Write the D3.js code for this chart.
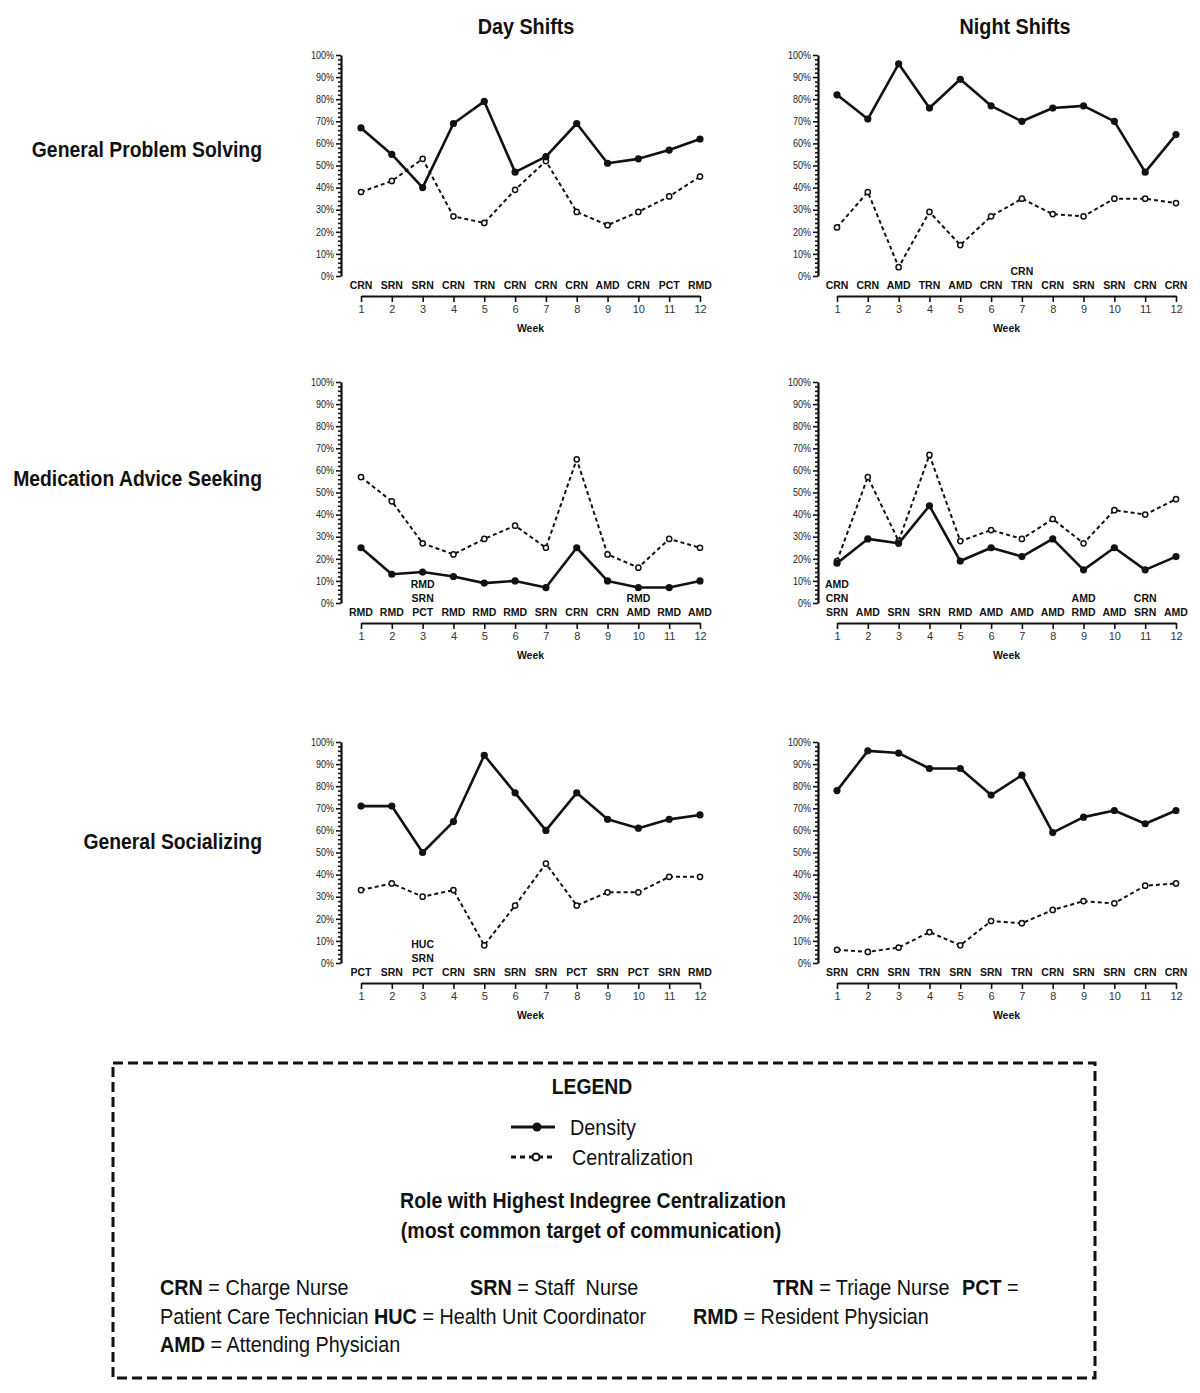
<!DOCTYPE html>
<html>
<head>
<meta charset="utf-8">
<script src="https://cdn.jsdelivr.net/npm/d3@7"></script>
<style>
html,body{margin:0;padding:0;background:#fff;}
svg{display:block;}
</style>
</head>
<body>
<svg id="chart" width="1200" height="1393"></svg>
<script>
// ---------------- DATA ----------------
const weeks = [1,2,3,4,5,6,7,8,9,10,11,12];
const yTickValues = [0,10,20,30,40,50,60,70,80,90,100];
const columnTitles = ["Day Shifts", "Night Shifts"];
const rowTitles = ["General Problem Solving", "Medication Advice Seeking", "General Socializing"];

// General Problem Solving
const gpsDayDensity   = [67,55,40,69,79,47,54,69,51,53,57,62];
const gpsDayCentral   = [38,43,53,27,24,39,52,29,23,29,36,45];
const gpsDayRoles     = [["CRN"],["SRN"],["SRN"],["CRN"],["TRN"],["CRN"],["CRN"],["CRN"],["AMD"],["CRN"],["PCT"],["RMD"]];
const gpsNightDensity = [82,71,96,76,89,77,70,76,77,70,47,64];
const gpsNightCentral = [22,38,4,29,14,27,35,28,27,35,35,33];
const gpsNightRoles   = [["CRN"],["CRN"],["AMD"],["TRN"],["AMD"],["CRN"],["CRN","TRN"],["CRN"],["SRN"],["SRN"],["CRN"],["CRN"]];

// Medication Advice Seeking
const masDayDensity   = [25,13,14,12,9,10,7,25,10,7,7,10];
const masDayCentral   = [57,46,27,22,29,35,25,65,22,16,29,25];
const masDayRoles     = [["RMD"],["RMD"],["RMD","SRN","PCT"],["RMD"],["RMD"],["RMD"],["SRN"],["CRN"],["CRN"],["RMD","AMD"],["RMD"],["AMD"]];
const masNightDensity = [18,29,27,44,19,25,21,29,15,25,15,21];
const masNightCentral = [19,57,28,67,28,33,29,38,27,42,40,47];
const masNightRoles   = [["AMD","CRN","SRN"],["AMD"],["SRN"],["SRN"],["RMD"],["AMD"],["AMD"],["AMD"],["AMD","RMD"],["AMD"],["CRN","SRN"],["AMD"]];

// General Socializing
const gsDayDensity    = [71,71,50,64,94,77,60,77,65,61,65,67];
const gsDayCentral    = [33,36,30,33,8,26,45,26,32,32,39,39];
const gsDayRoles      = [["PCT"],["SRN"],["HUC","SRN","PCT"],["CRN"],["SRN"],["SRN"],["SRN"],["PCT"],["SRN"],["PCT"],["SRN"],["RMD"]];
const gsNightDensity  = [78,96,95,88,88,76,85,59,66,69,63,69];
const gsNightCentral  = [6,5,7,14,8,19,18,24,28,27,35,36];
const gsNightRoles    = [["SRN"],["CRN"],["SRN"],["TRN"],["SRN"],["SRN"],["TRN"],["CRN"],["SRN"],["SRN"],["CRN"],["CRN"]];

const legendSeries = ["Density", "Centralization"];
const roleDefs = [
  {abbr:"CRN", name:"Charge Nurse"},
  {abbr:"SRN", name:"Staff  Nurse"},
  {abbr:"TRN", name:"Triage Nurse"},
  {abbr:"PCT", name:"Patient Care Technician"},
  {abbr:"HUC", name:"Health Unit Coordinator"},
  {abbr:"RMD", name:"Resident Physician"},
  {abbr:"AMD", name:"Attending Physician"}
];

// -------------- LAYOUT --------------
const FONT = "'Liberation Sans', Arial, sans-serif";
const cols = [
  {axisX: 341, x0: 361, x1: 700, titleX: 526},
  {axisX: 818, x0: 837, x1: 1176, titleX: 1015}
];
const rows = [
  {top: 55, bottom: 276, labelY: 157},
  {top: 382, bottom: 603, labelY: 486},
  {top: 742, bottom: 963, labelY: 849}
];
const panels = [
  {r:0,c:0,d:gpsDayDensity,ce:gpsDayCentral,roles:gpsDayRoles},
  {r:0,c:1,d:gpsNightDensity,ce:gpsNightCentral,roles:gpsNightRoles},
  {r:1,c:0,d:masDayDensity,ce:masDayCentral,roles:masDayRoles},
  {r:1,c:1,d:masNightDensity,ce:masNightCentral,roles:masNightRoles},
  {r:2,c:0,d:gsDayDensity,ce:gsDayCentral,roles:gsDayRoles},
  {r:2,c:1,d:gsNightDensity,ce:gsNightCentral,roles:gsNightRoles}
];

const svg = d3.select("#chart");
svg.append("rect").attr("width",1200).attr("height",1393).attr("fill","#fff");

// condensed text helper
function ctext(parent, x, y, str, opts){
  const o = Object.assign({size:22, bold:false, anchor:"start", sx:0.9}, opts||{});
  const g = parent.append("g").attr("transform",`translate(${x},${y}) scale(${o.sx},1)`);
  const t = g.append("text").attr("x",0).attr("y",0).attr("text-anchor",o.anchor)
    .attr("font-family",FONT).attr("font-size",o.size).attr("fill","#111")
    .attr("font-weight", o.bold ? "bold" : "normal").attr("xml:space","preserve");
  if (Array.isArray(str)) {
    str.forEach(pt=>t.append("tspan").attr("font-weight", pt.b ? "bold":"normal").text(pt.t));
  } else t.text(str);
  return t;
}

// Column titles
columnTitles.forEach((t,i)=> ctext(svg, cols[i].titleX, 34, t, {bold:true, anchor:"middle", sx:0.9}));
// Row titles
rowTitles.forEach((t,i)=> ctext(svg, 262, rows[i].labelY, t, {bold:true, anchor:"end", sx:0.88}));

panels.forEach(p=>{
  const col = cols[p.c], row = rows[p.r];
  const g = svg.append("g");
  const x = d3.scaleLinear().domain([1,12]).range([col.x0, col.x1]);
  const y = d3.scaleLinear().domain([0,100]).range([row.bottom, row.top]);

  // Y axis minor ticks (every 2%)
  const yMinor = d3.axisLeft(y).tickValues(d3.range(0,101,2).filter(v=>v%10!==0)).tickSize(3).tickFormat("");
  const gm = g.append("g").attr("transform",`translate(${col.axisX},0)`).call(yMinor);
  gm.select(".domain").remove();
  gm.selectAll("line").attr("stroke","#111").attr("stroke-width",1.6);

  // Y axis major
  const yAxis = d3.axisLeft(y).tickValues(yTickValues).tickSize(5).tickPadding(1)
    .tickFormat(d=>d+"%").tickSizeOuter(0);
  const ga = g.append("g").attr("transform",`translate(${col.axisX},0)`).call(yAxis);
  ga.select(".domain").attr("stroke","#111").attr("stroke-width",2.2);
  ga.selectAll(".tick line").attr("stroke","#111").attr("stroke-width",1.6);
  ga.selectAll("text").attr("font-family",FONT).attr("font-size",10).attr("fill","#222")
    .attr("transform","scale(0.9,1)").attr("x",-7/0.9);

  // X axis
  const axisY = row.bottom + 20;
  const xAxis = d3.axisBottom(x).tickValues(weeks).tickSize(6).tickPadding(3).tickSizeOuter(0);
  const gx = g.append("g").attr("transform",`translate(0,${axisY})`).call(xAxis);
  gx.select(".domain").attr("stroke","#111").attr("stroke-width",2.2);
  gx.selectAll(".tick line").attr("stroke","#111").attr("stroke-width",1.6);
  gx.selectAll("text").attr("font-family",FONT).attr("font-size",11).attr("fill","#333");
  g.append("text").attr("x",(col.x0+col.x1)/2).attr("y",axisY+36).attr("text-anchor","middle")
    .attr("font-family",FONT).attr("font-weight","bold").attr("font-size",10.5).attr("fill","#111").text("Week");

  // Role labels
  p.roles.forEach((lines,i)=>{
    const n = lines.length;
    lines.forEach((lab,j)=>{
      g.append("text").attr("x",x(weeks[i])).attr("y",row.bottom + 13 - (n-1-j)*14)
        .attr("text-anchor","middle").attr("font-family",FONT).attr("font-weight","bold")
        .attr("font-size",10.5).attr("fill","#111").text(lab);
    });
  });

  const line = d3.line().x((d,i)=>x(weeks[i])).y(d=>y(d));
  // Centralization (dashed)
  g.append("path").datum(p.ce).attr("d",line).attr("fill","none")
    .attr("stroke","#111").attr("stroke-width",2).attr("stroke-dasharray","4,3");
  // Density (solid)
  g.append("path").datum(p.d).attr("d",line).attr("fill","none")
    .attr("stroke","#111").attr("stroke-width",2.6).attr("stroke-linejoin","round");
  g.selectAll(".cpt").data(p.ce).enter().append("circle")
    .attr("cx",(d,i)=>x(weeks[i])).attr("cy",d=>y(d)).attr("r",2.6)
    .attr("fill","#fff").attr("stroke","#111").attr("stroke-width",1.5);
  g.selectAll(".dpt").data(p.d).enter().append("circle")
    .attr("cx",(d,i)=>x(weeks[i])).attr("cy",d=>y(d)).attr("r",3.6)
    .attr("fill","#111");
});

// -------------- LEGEND --------------
const lg = svg.append("g");
lg.append("rect").attr("x",113).attr("y",1063).attr("width",982).attr("height",315)
  .attr("fill","none").attr("stroke","#111").attr("stroke-width",3).attr("stroke-dasharray","10,5");
ctext(lg, 592, 1094, "LEGEND", {bold:true, anchor:"middle", sx:0.88});
// Density sample
lg.append("line").attr("x1",511).attr("x2",555).attr("y1",1127).attr("y2",1127)
  .attr("stroke","#111").attr("stroke-width",3);
lg.append("circle").attr("cx",537).attr("cy",1127).attr("r",4.5).attr("fill","#111");
ctext(lg, 570, 1135, legendSeries[0], {sx:0.9});
lg.append("line").attr("x1",511).attr("x2",555).attr("y1",1157).attr("y2",1157)
  .attr("stroke","#111").attr("stroke-width",3).attr("stroke-dasharray","5,4");
lg.append("circle").attr("cx",536).attr("cy",1157).attr("r",3.5).attr("fill","#fff")
  .attr("stroke","#111").attr("stroke-width",2);
ctext(lg, 572, 1165, legendSeries[1], {sx:0.9});

ctext(lg, 593, 1208, "Role with Highest Indegree Centralization", {bold:true, anchor:"middle", sx:0.89});
ctext(lg, 591, 1238, "(most common target of communication)", {bold:true, anchor:"middle", sx:0.89});

const R = Object.fromEntries(roleDefs.map(d=>[d.abbr,d.name]));
ctext(lg, 160, 1295, [{t:"CRN",b:1},{t:" = "+R.CRN}], {sx:0.9});
ctext(lg, 470, 1295, [{t:"SRN",b:1},{t:" = "+R.SRN}], {sx:0.9});
ctext(lg, 773, 1295, [{t:"TRN",b:1},{t:" = "+R.TRN}], {sx:0.9});
ctext(lg, 962, 1295, [{t:"PCT",b:1},{t:" ="}], {sx:0.9});
ctext(lg, 160, 1324, [{t:R.PCT+" "},{t:"HUC",b:1},{t:" = "+R.HUC}], {sx:0.9});
ctext(lg, 693, 1324, [{t:"RMD",b:1},{t:" = "+R.RMD}], {sx:0.9});
ctext(lg, 160, 1352, [{t:"AMD",b:1},{t:" = "+R.AMD}], {sx:0.9});
</script>
</body>
</html>
